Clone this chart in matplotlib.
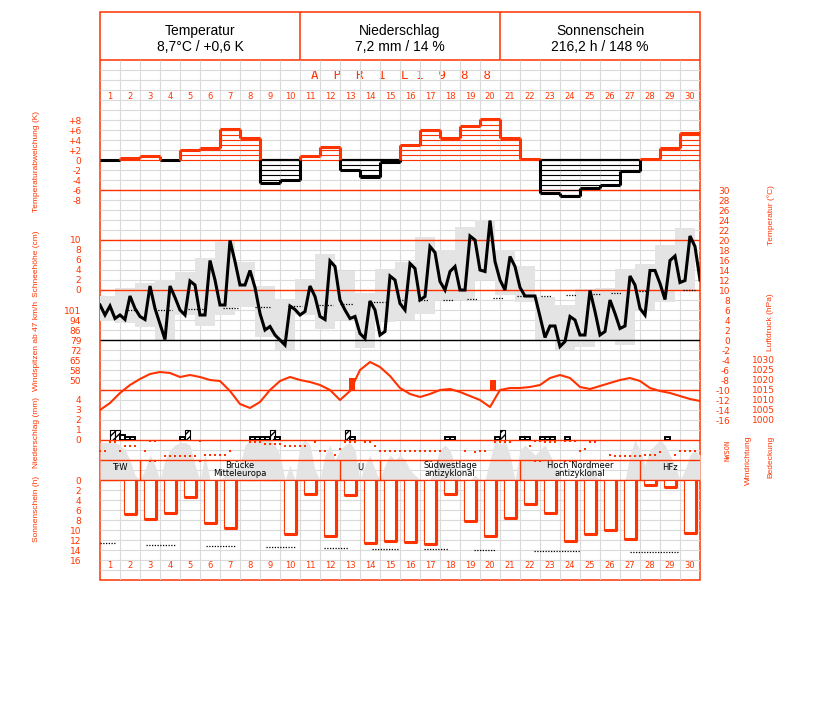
import numpy as np
import matplotlib
matplotlib.use("Agg")
import matplotlib.pyplot as plt
from matplotlib.patches import Rectangle

RED = "#ff3300"
GRID = "#dadada"
SHADE = "#e4e4e4"
W, H = 827, 702

# ---------------- data ----------------
header_titles = ["Temperatur", "Niederschlag", "Sonnenschein"]
header_values = ["8,7°C / +0,6 K", "7,2 mm / 14 %", "216,2 h / 148 %"]
month_text = "A  P  R  I  L"
year_text = "1  9  8  8"
days = list(range(1, 31))

anomaly_K = [0.0, 0.5, 0.9, 0.0, 2.1, 2.5, 6.3, 4.5, -4.5, -3.9,
             0.8, 2.7, -2.0, -3.4, -0.4, 3.0, 6.0, 4.5, 6.8, 8.2,
             4.5, 0.3, -6.7, -7.3, -5.7, -4.9, -2.2, 0.2, 2.5, 5.5]

# temperature every 6 h (t = 0, 0.25, ... 30 days)
temp_6h = [7.0, 5.0, 6.8, 4.3, 5.0, 4.1, 8.8, 6.3, 4.7, 4.1,
           10.8, 6.3, 3.2, 0.1, 10.8, 8.5, 6.0, 5.0, 11.8, 11.0,
           5.0, 5.0, 15.9, 12.0, 7.0, 7.0, 19.9, 15.7, 11.0, 11.0,
           13.9, 10.5, 5.3, 2.0, 2.7, 1.0, 0.0, -1.0, 6.8, 6.1,
           5.0, 5.7, 10.8, 8.7, 4.7, 4.1, 15.8, 14.7, 8.0, 6.0,
           4.3, 4.7, 1.3, 0.3, 7.8, 6.0, 1.0, 1.7, 12.8, 12.0,
           7.3, 6.0, 15.3, 14.3, 8.0, 8.7, 18.7, 17.5, 11.7, 10.0,
           13.7, 14.7, 10.0, 10.0, 20.8, 20.0, 14.0, 13.7, 23.9, 15.7,
           12.0, 10.0, 16.7, 14.7, 10.5, 8.8, 8.8, 8.8, 4.7, 0.5,
           2.8, 2.8, -1.3, -0.3, 4.7, 4.0, 1.0, 1.0, 9.9, 5.7,
           1.0, 1.7, 8.0, 5.3, 2.3, 2.8, 12.8, 11.0, 6.3, 5.0,
           13.9, 13.9, 11.3, 8.1, 15.9, 16.8, 11.5, 11.9, 20.8, 18.7,
           12.0]
tmax = [8.8, 10.4, 11.4, 12.0, 13.6, 16.4, 19.6, 15.6, 10.8, 8.2,
        12.2, 17.2, 13.8, 9.4, 14.2, 15.7, 20.7, 18.0, 22.7, 24.1,
        18.0, 14.8, 8.7, 7.0, 10.3, 10.5, 14.3, 15.3, 19.0, 22.5]
tmin = [3.8, 3.4, 2.6, 0.0, 5.0, 2.8, 5.0, 6.6, 0.6, -2.0,
        5.0, 2.2, 4.0, -1.6, 3.6, 4.0, 5.3, 8.0, 8.0, 12.0,
        9.0, 7.7, 0.0, -2.0, -1.3, 0.0, -1.0, 6.0, 7.7, 10.0]
clim_start = [1.25, 2.75, 4.4, 6.15, 7.75, 9.4, 10.95, 12.0, 13.4, 14.95, 15.9, 17.15,
              18.35, 19.65, 20.85, 22.05, 23.3, 24.65, 25.55, 26.95, 29.15]
clim_end = [1.9, 3.6, 5.15, 6.9, 8.5, 10.1, 11.65, 12.65, 14.25, 15.25, 16.4, 17.65,
            18.9, 20.2, 21.6, 22.6, 23.8, 25.0, 26.1, 27.35, 29.75]
clim_temp = [6.1, 6.1, 6.3, 6.5, 6.7, 6.9, 7.1, 7.3, 7.7, 8.0, 8.0, 8.1,
             8.3, 8.5, 8.8, 8.9, 9.1, 9.3, 9.5, 9.8, 10.1]

# pressure every 12 h
pressure_12h = [1005, 1008.5, 1013.5, 1017.5, 1020.5, 1023, 1024, 1023.5, 1021.5, 1022.5,
                1021.5, 1020, 1019.5, 1014.5, 1008, 1006, 1009, 1015, 1019.5, 1021.5,
                1020, 1019, 1017.5, 1015, 1010, 1014.5, 1025, 1029, 1026.5, 1022,
                1016, 1013, 1011.5, 1013, 1015, 1015.5, 1014, 1012, 1010, 1006.5,
                1015, 1016, 1016, 1016.5, 1017.5, 1021, 1022.5, 1021, 1016.5, 1015.5,
                1017, 1018.5, 1020, 1021, 1019.5, 1016, 1014.5, 1013.5, 1012, 1010.5,
                1009.5]

gust_time = [12.45, 19.5]
gust_kmh = [52.0, 50.4]

precip_time = [0.5, 0.75, 1.0, 1.25, 1.5, 4.0, 4.25, 7.5, 7.75, 8.0, 8.25, 8.5, 8.75,
               12.25, 12.5, 17.25, 17.5, 19.75, 20.0, 21.0, 21.25, 22.0, 22.25, 22.5,
               23.25, 28.25]
precip_mm = [1.0, 1.0, 0.5, 0.3, 0.3, 0.3, 1.0, 0.3, 0.3, 0.3, 0.3, 1.0, 0.3,
             1.0, 0.3, 0.3, 0.3, 0.3, 1.0, 0.3, 0.3, 0.3, 0.3, 0.3, 0.3, 0.3]
precip_snow = [1, 1, 0, 0, 0, 0, 1, 0, 0, 0, 0, 1, 0, 1, 0, 0, 0, 0, 1, 0, 0, 0, 0, 0, 0, 0]

nan = float("nan")
# wind direction every 6 h, degrees (0 = N)
wind_dir_6h = [180, 180, 20, 20, 180, 90, 90, 90, nan, 180,
               0, 0, nan, 270, 270, 270, 270, 270, 270, 270,
               0, 260, 260, 260, 260, 260, 180, nan, nan, nan,
               20, 20, 20, 60, 60, 60, 60, 90, 90, 90,
               90, 90, nan, 20, 180, 180, nan, 260, 140, 20,
               20, 20, nan, 20, 20, 90, 180, 180, 180, 180,
               180, 180, 180, 180, 180, 180, 180, 180, 180, nan,
               nan, nan, nan, 180, nan, 200, 180, 180, nan, 20,
               20, 20, 20, nan, nan, nan, 90, 0, 0, 20,
               20, 20, nan, 0, 0, 0, 180, 140, 20, 20,
               nan, nan, 260, 270, 270, 270, 270, 270, 270, 260,
               260, 260, 200, nan, nan, 260, 180, 180, 180, 180]

# cloud cover (octas) every 6 h
cloud_6h = [7.5, 7.5, 7.5, 7.5, 7, 6, 4, 1, 0, 2,
            5, 3, 0, 4, 6, 7, 7.5, 7.5, 7, 3,
            0, 5, 0, 0, 0, 1, 4, 2, 3, 7,
            8, 8, 8, 8, 8, 7, 5, 0, 3, 0,
            7, 8, 7, 2, 0, 5, 7, 4, 6, 7,
            7.5, 6, 0, 3, 5, 2, 0, 3, 5, 4,
            5, 4, 2, 1, 0, 0, 0, 3, 6, 7,
            6, 3, 0, 0, 0, 1, 0, 0, 4, 8,
            7, 8, 5, 0, 6, 7, 6, 5, 6, 7,
            5, 3, 0, 0, 0, 0, 0, 2, 4, 1,
            0, 0, 0, 0, 0, 0, 5, 8, 6, 3,
            6, 7, 8, 7, 5, 3, 0, 2, 5, 6,
            5]

weather_types = ["TrW", "Brücke\nMitteleuropa", "U", "Südwestlage\nantizyklonal",
                 "Hoch Nordmeer\nantizyklonal", "HFz"]
weather_start = [0, 2, 12, 14, 21, 27]
weather_end = [2, 12, 14, 21, 27, 30]

sunshine_h = [0, 6.7, 7.7, 6.5, 3.3, 8.5, 9.5, 0, 0, 10.7,
              2.7, 11.1, 2.9, 12.6, 12.1, 12.3, 12.7, 2.7, 8.1, 11.1,
              7.5, 4.8, 6.5, 12.1, 10.7, 9.9, 11.7, 1.0, 1.3, 10.6]
sunpos_start = [0.0, 2.3, 5.3, 8.3, 11.2, 13.6, 16.2, 18.7, 21.7, 26.5]
sunpos_end = [0.8, 3.8, 6.8, 9.8, 12.4, 14.9, 17.4, 19.8, 24.0, 28.9]
sunpos_h = [12.6, 13.0, 13.2, 13.4, 13.6, 13.8, 13.8, 14.0, 14.2, 14.4]

anom_ticks = [8, 6, 4, 2, 0, -2, -4, -6, -8]
anom_labels = ["+8", "+6", "+4", "+2", "0", "-2", "-4", "-6", "-8"]
snow_ticks = [10, 8, 6, 4, 2, 0]
gust_ticks = [50.4, 57.6, 64.8, 72.0, 79.2, 86.4, 93.6, 100.8]
gust_labels = ["50", "58", "65", "72", "79", "86", "94", "101"]
precip_ticks = [4, 3, 2, 1, 0]
sun_ticks = [0, 2, 4, 6, 8, 10, 12, 14, 16]
temp_ticks = list(range(30, -17, -2))
press_ticks = [1030, 1025, 1020, 1015, 1010, 1005, 1000]

# ---------------- figure ----------------
fig = plt.figure(figsize=(W / 100, H / 100), dpi=100)
bg = fig.add_axes([0, 0, 1, 1])
bg.set_xlim(0, W)
bg.set_ylim(H, 0)
bg.axis("off")

X0, X1 = 100, 700
TICKFONT = dict(labelsize=6.5, labelcolor=RED, labelfontfamily="DejaVu Sans")


def panel(ytop, ybot, vtop, vbot):
    ax = fig.add_axes([X0 / W, 1 - ybot / H, (X1 - X0) / W, (ybot - ytop) / H])
    ax.set_xlim(0, 30)
    ax.set_ylim(vbot, vtop)
    ax.patch.set_visible(False)
    for s in ax.spines.values():
        s.set_visible(False)
    ax.xaxis.set_visible(False)
    ax.set_yticks([])
    return ax


def left_ticks(ax, ticks, labels=None):
    ax.yaxis.set_ticks_position("left")
    ax.set_yticks(ticks, labels if labels is not None else [str(t) for t in ticks])
    ax.tick_params(axis="y", length=0, pad=13.5, **TICKFONT)


def right_ticks(ax, ticks, pad_px):
    ax.yaxis.tick_right()
    ax.set_yticks(ticks, [str(t) for t in ticks])
    ax.tick_params(axis="y", length=0, pad=pad_px * 0.72, **TICKFONT)
    for lab in ax.get_yticklabels():
        lab.set_horizontalalignment("right")


# grid layer (pixel y)
L = panel(60, 580, 60, 580)
L.hlines(np.arange(70, 580, 10), 0, 30, color=GRID, lw=0.8)
L.vlines(np.arange(1, 30), 60, 580, color=GRID, lw=0.8)

t6 = np.arange(len(temp_6h)) / 4.0
t12 = np.arange(len(pressure_12h)) / 2.0
tw = np.arange(len(wind_dir_6h)) / 4.0
tc = np.arange(len(cloud_6h)) / 4.0

# shaded layers
Tb = panel(190, 420, 30, -16)
tmax_a = np.array(tmax)
tmin_a = np.array(tmin)
Tb.bar(np.arange(30) - 0.25, tmax_a - tmin_a, bottom=tmin_a, width=1.0, align="edge",
       color=SHADE, lw=0)
C = panel(440, 480, 8, 0)
C.fill_between(tc, 0, cloud_6h, color=SHADE, lw=0)

# red reference lines
L2 = panel(60, 580, 60, 580)
L2.hlines([190, 240, 290, 390, 440, 460, 480], 0, 30, color=RED, lw=1.0)
L2.hlines([340], 0, 30, color="black", lw=1.0)
L2.vlines(weather_start[1:], 460, 480, color=RED, lw=1.0)
for s, e, lab in zip(weather_start, weather_end, weather_types):
    yy = 469.5 if "\n" in lab else 467
    L2.text((s + e) / 2, yy, lab, ha="center", va="center", fontsize=6,
            family="DejaVu Sans", linespacing=1.0, color="black")
for d in days:
    L2.text(d - 0.5, 96.5, str(d), ha="center", va="center", fontsize=6,
            color=RED, family="DejaVu Sans")
    L2.text(d - 0.5, 566, str(d), ha="center", va="center", fontsize=6,
            color=RED, family="DejaVu Sans")

# frame and header
bg.add_patch(Rectangle((100, 12), 600, 568, fill=False, ec=RED, lw=1.1))
bg.hlines(60, 100, 700, color=RED, lw=1.1)
bg.vlines([300, 500], 12, 60, color=RED, lw=1.1)
for i, (tt, vv) in enumerate(zip(header_titles, header_values)):
    cx = 200 + 200 * i
    bg.text(cx, 31, tt, ha="center", va="center", fontsize=10, family="Liberation Sans")
    bg.text(cx, 47, vv, ha="center", va="center", fontsize=10, family="Liberation Sans")
bg.text(360, 75.5, month_text, ha="center", va="center", fontsize=9,
        family="DejaVu Sans Mono", color=RED)
bg.text(453, 75.5, year_text, ha="center", va="center", fontsize=9,
        family="DejaVu Sans Mono", color=RED)

# temperature anomaly
A = panel(110, 200, 10, -8)
left_ticks(A, anom_ticks, anom_labels)
a = np.array(anomaly_K)
for i, v in enumerate(a):
    if v > 0:
        lev = np.arange(1, np.floor(v) + 1)
        if len(lev):
            A.hlines(lev, i, i + 1, color=RED, lw=0.8)
        A.hlines(0, i, i + 1, color=RED, lw=0.8)
    elif v < 0:
        lev = -np.arange(1, np.floor(-v) + 1)
        if len(lev):
            A.hlines(lev, i, i + 1, color="black", lw=0.8)
        A.hlines(0, i, i + 1, color="black", lw=1.6)
cols = [RED if v > 0 else "black" for v in a]
A.hlines(a, np.arange(30), np.arange(1, 31), colors=cols, lw=2.2)
for i in range(1, 30):
    lo, hi = sorted([a[i - 1], a[i]])
    if hi > 0:
        A.vlines(i, max(lo, 0), hi, color=RED, lw=2.2)
    if lo < 0:
        A.vlines(i, lo, min(hi, 0), color="black", lw=2.2)

# snow depth (axis only)
S = panel(240, 290, 10, 0)
left_ticks(S, snow_ticks)

# temperature
T = panel(190, 420, 30, -16)
right_ticks(T, temp_ticks, 30)
T.hlines(clim_temp, clim_start, clim_end, color="black", lw=0.9, linestyles=(0, (1, 1.2)))
T.plot(t6, temp_6h, color="black", lw=2.2, solid_joinstyle="miter")

# wind gusts
G = panel(310, 390, 100.8, 43.2)
left_ticks(G, gust_ticks, gust_labels)
G.bar(gust_time, np.array(gust_kmh) - 43.2, bottom=43.2, width=0.3, align="edge",
      color=RED, lw=0)

# pressure
P = panel(350, 420, 1035, 1000)
right_ticks(P, press_ticks, 75)
P.plot(t12, pressure_12h, color=RED, lw=1.5)

# precipitation
R = panel(400, 440, 4, 0)
left_ticks(R, precip_ticks)
for t0, mm, sn in zip(precip_time, precip_mm, precip_snow):
    if sn:
        R.bar(t0, mm, width=0.25, align="edge", color="white", edgecolor="black",
              lw=0.8, hatch="/////")
    else:
        R.bar(t0, mm, width=0.25, align="edge", color="white", edgecolor="black", lw=1.4)

# wind direction
D = panel(441, 461, 0, 360)
wd = np.array(wind_dir_6h, dtype=float)
D.plot(tw, wd, ls="none", marker="s", ms=2.0, mew=0, color=RED, clip_on=False)
north = np.where(wd == 0, 360.0, np.nan)
D.plot(tw, north, ls="none", marker="s", ms=2.0, mew=0, color=RED, clip_on=False)

# sunshine
U = panel(480, 560, 0, 16)
left_ticks(U, sun_ticks)
sx = np.arange(30) + 0.2
sh = np.array(sunshine_h)
U.bar(sx, sh, width=0.65, align="edge", color="white", edgecolor=RED, lw=0.8)
m = sh > 0
U.vlines(sx[m] + 0.62, 0, sh[m], color=RED, lw=2.2)
U.hlines(sh[m], sx[m], sx[m] + 0.65, color=RED, lw=2.2)
U.hlines(sunpos_h, sunpos_start, sunpos_end, color="black", lw=0.9, linestyles=(0, (1, 1.2)))

# axis titles
TF = dict(rotation=90, ha="center", va="center", color=RED, fontsize=6.0,
          family="Liberation Sans")
bg.text(36, 161, "Temperaturabweichung (K)", **TF)
bg.text(36, 264, "Schneehöhe (cm)", **TF)
bg.text(36, 346, "Windspitzen ab 47 km/h", **TF)
bg.text(36, 432, "Niederschlag (mm)", **TF)
bg.text(36, 509, "Sonnenschein (h)", **TF)
bg.text(771, 215, "Temperatur (°C)", **TF)
bg.text(771, 322, "Luftdruck (hPa)", **TF)
bg.text(748, 460, "Windrichtung", **TF)
bg.text(771, 457, "Bedeckung", **TF)
bg.text(728, 450, "NWSON", rotation=90, ha="center", va="center", color=RED,
        fontsize=5, family="DejaVu Sans Mono")

fig.savefig("out.png", dpi=100)
